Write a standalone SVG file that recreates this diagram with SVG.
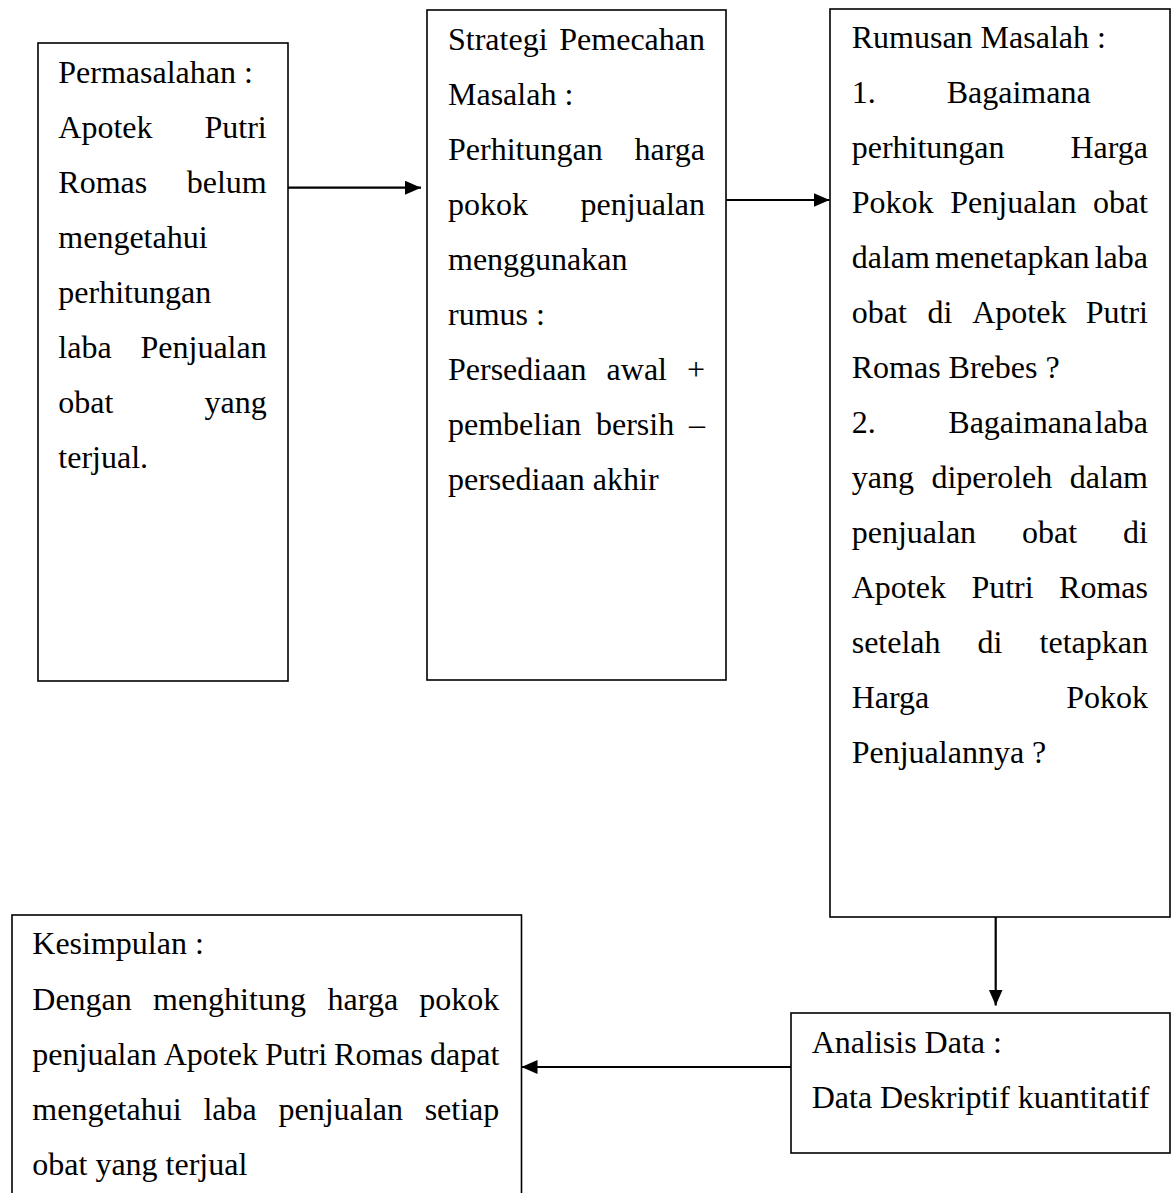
<svg xmlns="http://www.w3.org/2000/svg" width="1173" height="1193" viewBox="0 0 1173 1193">
<defs>
<style>
.box{fill:#fff;stroke:#000;stroke-width:1.6}
.t{font-family:"Liberation Serif","Times New Roman",serif;font-size:32px;fill:#000}
.e{text-anchor:end}
.conn{stroke:#000;stroke-width:2.2;fill:none}
</style>
<marker id="ah" markerUnits="userSpaceOnUse" markerWidth="17" markerHeight="15" refX="16" refY="7" orient="auto">
<path d="M0,0 L16,7 L0,14 Z" fill="#000"/>
</marker>
</defs>
<rect width="1173" height="1193" fill="#fff"/>

<g id="node-permasalahan">
<rect class="box" x="38" y="43" width="250" height="638"/>
<text class="t" x="58.3" y="83">Permasalahan :</text>
<text class="t" x="58.3" y="138">Apotek</text><text class="t e" x="266.7" y="138">Putri</text>
<text class="t" x="58.3" y="193">Romas</text><text class="t e" x="266.7" y="193">belum</text>
<text class="t" x="58.3" y="248">mengetahui</text>
<text class="t" x="58.3" y="303">perhitungan</text>
<text class="t" x="58.3" y="358">laba</text><text class="t e" x="266.7" y="358">Penjualan</text>
<text class="t" x="58.3" y="413">obat</text><text class="t e" x="266.7" y="413">yang</text>
<text class="t" x="58.3" y="468">terjual.</text>
</g>

<g id="node-strategi">
<rect class="box" x="427" y="10" width="299" height="670"/>
<text class="t" x="448" y="50">Strategi</text><text class="t e" x="705" y="50">Pemecahan</text>
<text class="t" x="448" y="105">Masalah :</text>
<text class="t" x="448" y="160">Perhitungan</text><text class="t e" x="705" y="160">harga</text>
<text class="t" x="448" y="215">pokok</text><text class="t e" x="705" y="215">penjualan</text>
<text class="t" x="448" y="270">menggunakan</text>
<text class="t" x="448" y="325">rumus :</text>
<text class="t" x="448" y="380">Persediaan</text><text class="t" x="606.6" y="380">awal</text><text class="t e" x="705" y="380">+</text>
<text class="t" x="448" y="435">pembelian</text><text class="t" x="596" y="435">bersih</text><text class="t e" x="705" y="435">–</text>
<text class="t" x="448" y="490">persediaan akhir</text>
</g>

<g id="node-rumusan">
<rect class="box" x="830" y="9" width="340" height="908"/>
<text class="t" x="851.7" y="48">Rumusan Masalah :</text>
<text class="t" x="851.7" y="103">1.</text><text class="t" x="946.7" y="103">Bagaimana</text>
<text class="t" x="851.7" y="158">perhitungan</text><text class="t e" x="1148" y="158">Harga</text>
<text class="t" x="851.7" y="213">Pokok</text><text class="t" x="950.3" y="213">Penjualan</text><text class="t e" x="1148" y="213">obat</text>
<text class="t" x="851.7" y="268">dalam</text><text class="t" x="935" y="268">menetapkan</text><text class="t e" x="1148" y="268">laba</text>
<text class="t" x="851.7" y="323">obat</text><text class="t" x="927.5" y="323">di</text><text class="t" x="972.2" y="323">Apotek</text><text class="t e" x="1148" y="323">Putri</text>
<text class="t" x="851.7" y="378">Romas Brebes ?</text>
<text class="t" x="851.7" y="433">2.</text><text class="t" x="948.3" y="433">Bagaimana</text><text class="t e" x="1148" y="433">laba</text>
<text class="t" x="851.7" y="488">yang</text><text class="t" x="931.4" y="488">diperoleh</text><text class="t e" x="1148" y="488">dalam</text>
<text class="t" x="851.7" y="543">penjualan</text><text class="t" x="1022" y="543">obat</text><text class="t e" x="1148" y="543">di</text>
<text class="t" x="851.7" y="598">Apotek</text><text class="t" x="971.4" y="598">Putri</text><text class="t e" x="1148" y="598">Romas</text>
<text class="t" x="851.7" y="653">setelah</text><text class="t" x="977.6" y="653">di</text><text class="t e" x="1148" y="653">tetapkan</text>
<text class="t" x="851.7" y="708">Harga</text><text class="t e" x="1148" y="708">Pokok</text>
<text class="t" x="851.7" y="763">Penjualannya ?</text>
</g>

<g id="node-analisis">
<rect class="box" x="791" y="1013" width="379" height="140"/>
<text class="t" x="811.7" y="1053">Analisis Data :</text>
<text class="t" x="811.7" y="1108">Data Deskriptif kuantitatif</text>
</g>

<g id="node-kesimpulan">
<rect class="box" x="12" y="915" width="509.5" height="300"/>
<text class="t" x="32.3" y="954">Kesimpulan :</text>
<text class="t" x="32.3" y="1010">Dengan</text><text class="t" x="153" y="1010">menghitung</text><text class="t" x="327.6" y="1010">harga</text><text class="t e" x="499.3" y="1010">pokok</text>
<text class="t" x="32.3" y="1065">penjualan</text><text class="t" x="163.7" y="1065">Apotek</text><text class="t" x="264.9" y="1065">Putri</text><text class="t" x="334.1" y="1065">Romas</text><text class="t e" x="499.3" y="1065">dapat</text>
<text class="t" x="32.3" y="1120">mengetahui</text><text class="t" x="203.4" y="1120">laba</text><text class="t" x="278.5" y="1120">penjualan</text><text class="t e" x="499.3" y="1120">setiap</text>
<text class="t" x="32.3" y="1175">obat yang terjual</text>
</g>

<g id="connectors">
<line class="conn" x1="288" y1="187.7" x2="421" y2="187.7" marker-end="url(#ah)"/>
<line class="conn" x1="726" y1="200" x2="829.5" y2="200" marker-end="url(#ah)"/>
<line class="conn" x1="995.7" y1="917" x2="995.7" y2="1005.5" marker-end="url(#ah)"/>
<line class="conn" x1="791" y1="1067" x2="521.5" y2="1067" marker-end="url(#ah)"/>
</g>
</svg>
